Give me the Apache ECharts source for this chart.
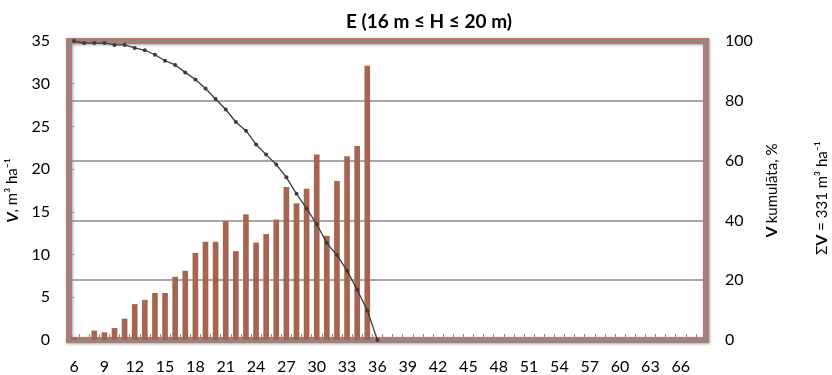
<!DOCTYPE html>
<html>
<head>
<meta charset="utf-8">
<script src="https://cdn.jsdelivr.net/npm/echarts@6/dist/echarts.min.js"></script>
<style>
html,body{margin:0;padding:0;background:#fff;}
#chart{width:832px;height:375px;}
</style>
</head>
<body>
<div id="chart"></div>
<script>
// Diameter classes (cm)
const categories = [];
for (let d = 6; d <= 68; d++) categories.push(String(d));

// Volume per diameter class, m3/ha (classes 6..36)
const volume = [0.3, 0, 1.1, 0.9, 1.4, 2.5, 4.2, 4.7, 5.5, 5.5,
                7.4, 8.1, 10.2, 11.5, 11.5, 13.9, 10.4, 14.7, 11.4, 12.4,
                14.1, 17.9, 16.0, 17.7, 21.7, 12.2, 18.6, 21.5, 22.7, 32.1, 0];

// Cumulative volume share, % (classes 6..36)
const cumulative = [100, 99.3, 99.3, 99.3, 98.7, 98.7, 97.7, 96.9, 95.4, 93.4,
                    92.0, 89.5, 87.1, 84.1, 80.6, 77.1, 72.9, 70.0, 65.4, 62.0,
                    58.7, 54.4, 48.9, 44.0, 38.7, 32.4, 28.4, 23.2, 16.8, 9.9, 0];

const titleText = 'E (16 m \u2264 H \u2264 20 m)';
const totalText = '331';

const barData = categories.map((c, i) => i < volume.length ? volume[i] : 0);
const lineData = categories.map((c, i) => i < cumulative.length ? cumulative[i] : null);

const FONT = 'Lato, "Open Sans", sans-serif';
const gray = '#8a8a8a';

const chart = echarts.init(document.getElementById('chart'), null, {renderer: 'canvas'});
chart.setOption({
  animation: false,
  backgroundColor: '#ffffff',
  textStyle: {fontFamily: FONT, color: '#000'},
  title: {
    text: titleText,
    left: 341, top: 7,
    textStyle: {fontFamily: FONT, fontSize: 19, fontWeight: 'bold', color: '#000'}
  },
  grid: {
    left: 69, right: 126, top: 41, bottom: 35,
    outerBoundsMode: 'none',
    containLabel: false,
    show: true,
    borderColor: '#b47a70',
    borderWidth: 6,
    shadowColor: 'rgba(0,0,0,0.35)',
    shadowBlur: 3,
    shadowOffsetX: 1,
    shadowOffsetY: 1
  },
  xAxis: [{
    type: 'category',
    data: categories,
    boundaryGap: true,
    axisLine: {show: true, lineStyle: {color: gray, width: 2}},
    axisTick: {show: true, inside: true, interval: 0, length: 6, lineStyle: {color: gray, width: 1}},
    axisLabel: {interval: 2, margin: 19, fontSize: 16, fontFamily: FONT, color: '#000'},
    splitLine: {show: false}
  }, {
    type: 'category',
    data: categories,
    position: 'top',
    axisLine: {show: true, lineStyle: {color: gray, width: 2}},
    axisTick: {show: false},
    axisLabel: {show: false},
    splitLine: {show: false}
  }],
  yAxis: [{
    type: 'value',
    min: 0, max: 35, interval: 5,
    position: 'left',
    axisLine: {show: true, lineStyle: {color: gray, width: 2}},
    axisTick: {show: true, inside: true, length: 5, lineStyle: {color: gray}},
    axisLabel: {margin: 19, fontSize: 16, fontFamily: FONT, color: '#000'},
    splitLine: {show: false},
    name: '{b|V}{n|, m\u00b3 ha\u207b\u00b9}',
    nameLocation: 'middle',
    nameRotate: 90,
    nameGap: 44,
    nameTextStyle: {
      rich: {
        b: {fontFamily: FONT, fontSize: 16, fontWeight: 'bold', fontStyle: 'italic', color: '#000'},
        n: {fontFamily: FONT, fontSize: 15, color: '#000'}
      }
    }
  }, {
    type: 'value',
    min: 0, max: 100, interval: 20,
    position: 'right',
    axisLine: {show: true, lineStyle: {color: gray, width: 2}},
    axisTick: {show: false},
    axisLabel: {margin: 19, fontSize: 16, fontFamily: FONT, color: '#000'},
    splitLine: {show: true, lineStyle: {color: gray, width: 1.5}},
    name: '{b|V} {n|kumulāta, %}',
    nameLocation: 'middle',
    nameRotate: 90,
    nameGap: 58,
    nameTextStyle: {
      rich: {
        b: {fontFamily: FONT, fontSize: 16, fontWeight: 'bold', color: '#000'},
        n: {fontFamily: FONT, fontSize: 15, color: '#000'}
      }
    }
  }],
  graphic: [{
    type: 'text',
    x: 822, y: 198,
    rotation: Math.PI / 2,
    style: {
      text: '{n|\u03a3}{b|V}{n| = ' + totalText + ' m\u00b3 ha\u207b\u00b9}',
      align: 'center',
      verticalAlign: 'middle',
      rich: {
        b: {fontFamily: FONT, fontSize: 16, fontWeight: 'bold', fill: '#000'},
        n: {fontFamily: FONT, fontSize: 15, fill: '#000'}
      }
    }
  }],
  series: [{
    type: 'bar',
    data: barData,
    xAxisIndex: 0,
    yAxisIndex: 0,
    barWidth: '56%',
    itemStyle: {color: '#a6654e'},
    z: 3
  }, {
    type: 'line',
    data: lineData,
    xAxisIndex: 0,
    yAxisIndex: 1,
    symbol: 'circle',
    symbolSize: 4,
    showSymbol: true,
    connectNulls: false,
    lineStyle: {color: '#3c3c3c', width: 1.3},
    itemStyle: {color: '#3c3c3c'},
    z: 4
  }]
});
</script>
</body>
</html>
